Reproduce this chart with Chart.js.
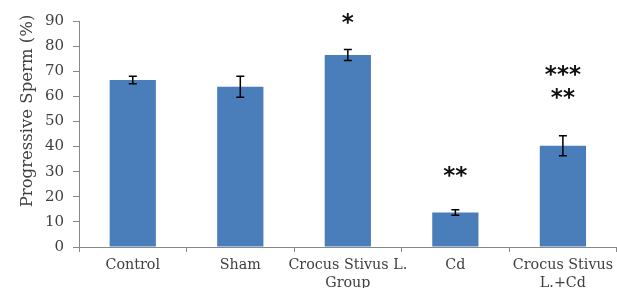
<!DOCTYPE html>
<html><head><meta charset="utf-8">
<script src="https://cdn.jsdelivr.net/npm/chart.js@4"></script>
<style>html,body{margin:0;padding:0;background:#fff}#wrap{width:617px;height:288px;position:relative}</style>
</head><body><div id="wrap"><canvas id="c" width="617" height="288"></canvas></div>
<script>
const categories = [["Control"],["Sham"],["Crocus Stivus L.","Group"],["Cd"],["Crocus Stivus","L.+Cd"]];
const values = [66.5, 63.8, 76.5, 13.7, 40.3];
const errors = [1.5, 4.2, 2.2, 1.1, 4.0];
const marks = [[], [], ["*"], ["**"], ["***","**"]];
const markLevels = [[], [], [90.3], [29.5], [69.7, 60.6]];
const yTicks = [0,10,20,30,40,50,60,70,80,90];

const overlay = {
  id:'overlay',
  afterDatasetsDraw(chart){
    const ctx = chart.ctx, x = chart.scales.x, y = chart.scales.y;
    ctx.save();
    ctx.strokeStyle = '#000'; ctx.lineWidth = 1.5;
    values.forEach((v,i)=>{
      const cx = x.getPixelForValue(i);
      const t = y.getPixelForValue(v+errors[i]), b = y.getPixelForValue(v-errors[i]);
      ctx.beginPath();
      ctx.moveTo(cx,t); ctx.lineTo(cx,b);
      ctx.moveTo(cx-4,t); ctx.lineTo(cx+4,t);
      ctx.moveTo(cx-4,b); ctx.lineTo(cx+4,b);
      ctx.stroke();
    });
    ctx.fillStyle = '#111';
    ctx.font = '600 23px "DejaVu Sans"';
    ctx.textAlign = 'center'; ctx.textBaseline = 'middle';
    marks.forEach((m,i)=>{
      const cx = x.getPixelForValue(i);
      m.forEach((s,j)=>{
        ctx.fillText(s, cx, y.getPixelForValue(markLevels[i][j]) + 4);
      });
    });
    ctx.save();
    ctx.translate(28, 111);
    ctx.rotate(-Math.PI/2);
    ctx.fillStyle = '#404040';
    ctx.font = '16.5px "DejaVu Serif"';
    ctx.textAlign = 'center'; ctx.textBaseline = 'middle';
    ctx.fillText('Progressive Sperm (%)', 0, 0);
    ctx.restore();
    ctx.restore();
  }
};

new Chart(document.getElementById('c'), {
  type:'bar',
  data:{labels:categories, datasets:[{data:values, backgroundColor:'#4A7EBB', categoryPercentage:1, barPercentage:0.43}]},
  options:{
    responsive:false, animation:false,
    layout:{padding:{top:21,right:0,left:0,bottom:0}},
    plugins:{legend:{display:false}, tooltip:{enabled:false}},
    scales:{
      x:{
        grid:{display:true, drawOnChartArea:false, drawTicks:true, tickLength:5, color:'#888', offset:true},
        border:{color:'#888', width:1},
        ticks:{color:'#404040', font:{family:'"DejaVu Serif"', size:14.3, lineHeight:1.25}, padding:4, maxRotation:0, autoSkip:false},
        afterFit(s){ s.height = 41; }
      },
      y:{
        min:0, max:90,
        afterBuildTicks(s){ s.ticks = yTicks.map(v=>({value:v})); },
        grid:{display:true, drawOnChartArea:false, drawTicks:true, tickLength:6, color:'#888'},
        border:{color:'#888', width:1},
        ticks:{color:'#404040', font:{family:'"DejaVu Serif"', size:15}, padding:9},
        afterFit(s){ s.width = 79; }
      }
    }
  },
  plugins:[overlay]
});
</script></body></html>
